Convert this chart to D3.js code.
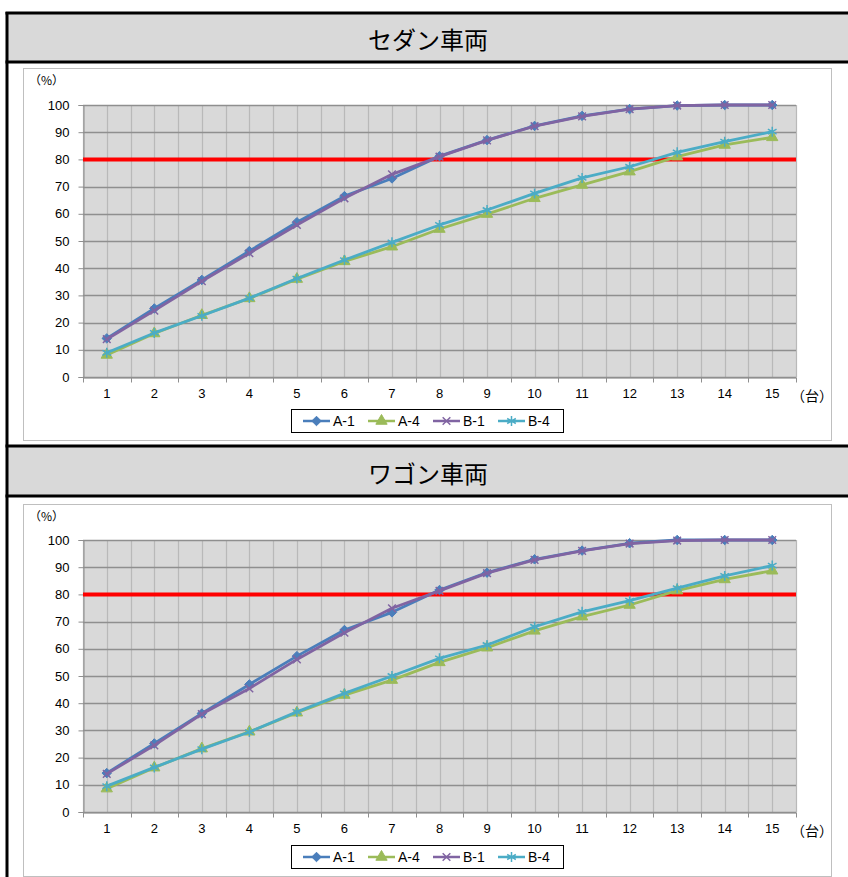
<!DOCTYPE html>
<html>
<head>
<meta charset="utf-8">
<script src="https://cdn.jsdelivr.net/npm/d3@7"></script>
<style>
  html, body { margin: 0; padding: 0; background: #fff; }
  svg { display: block; }
</style>
</head>
<body>
<svg id="chart" width="848" height="877"></svg>
<script>
// ---------- data ----------
const categories = [1, 2, 3, 4, 5, 6, 7, 8, 9, 10, 11, 12, 13, 14, 15];
const yTicks = [0, 10, 20, 30, 40, 50, 60, 70, 80, 90, 100];
const seriesNames = ["A-1", "A-4", "B-1", "B-4"];
const thresholdValue = 80;
const panelTitles = ["セダン車両", "ワゴン車両"];

const sedanA1 = [14.2, 25.2, 35.7, 46.3, 56.9, 66.5, 73.0, 81.2, 87.1, 92.3, 96.0, 98.5, 99.8, 100, 100];
const sedanA4 = [8.1, 16.0, 22.7, 28.9, 36.0, 42.5, 47.9, 54.4, 59.9, 65.7, 70.6, 75.5, 81.0, 85.3, 88.1];
const sedanB1 = [13.9, 24.4, 35.2, 45.5, 55.9, 65.7, 74.5, 81.0, 87.0, 92.2, 95.8, 98.5, 99.8, 100, 100];
const sedanB4 = [8.9, 16.2, 22.5, 29.0, 36.2, 43.0, 49.5, 55.9, 61.4, 67.5, 73.2, 77.3, 82.6, 86.5, 90.2];

const wagonA1 = [14.3, 25.2, 36.2, 46.9, 57.3, 66.9, 73.4, 81.6, 88.0, 92.9, 96.1, 98.8, 100, 100, 100];
const wagonA4 = [8.6, 16.3, 23.3, 29.5, 36.5, 43.0, 48.5, 55.0, 60.4, 66.6, 71.8, 76.1, 81.4, 85.5, 88.7];
const wagonB1 = [14.0, 24.5, 36.0, 45.4, 56.1, 65.9, 74.9, 81.3, 87.8, 92.7, 96.0, 98.7, 99.8, 100, 100];
const wagonB4 = [9.5, 16.4, 23.1, 29.4, 36.8, 43.6, 50.0, 56.5, 61.4, 68.1, 73.6, 77.7, 82.3, 86.8, 90.6];

// ---------- styles ----------
const colors = { "A-1": "#4a7ebb", "A-4": "#9bbb59", "B-1": "#8064a2", "B-4": "#4bacc6" };
const squareDiamond = {
  draw(ctx, size) {
    const r = Math.sqrt(size / 2);
    ctx.moveTo(0, -r); ctx.lineTo(r, 0); ctx.lineTo(0, r); ctx.lineTo(-r, 0); ctx.closePath();
  }
};
const symbols = { "A-1": squareDiamond, "A-4": d3.symbolTriangle, "B-1": d3.symbolTimes, "B-4": d3.symbolAsterisk };
const symSize = { "A-1": 45, "A-4": 55, "B-1": 40, "B-4": 70 };
const filled = { "A-1": true, "A-4": true, "B-1": false, "B-4": false };
const FONT = "'Liberation Sans', Arial, sans-serif";
const JFONT = "'Noto Sans CJK JP', sans-serif";

const svg = d3.select("#chart");

// ---------- table frame ----------
const tableLeft = 7, tableRight = 860;
const rows = [
  { headTop: 13, headBottom: 62, chartBottom: 446 },
  { headTop: 446, headBottom: 496, chartBottom: 880 }
];
rows.forEach((r, i) => {
  svg.append("rect").attr("x", tableLeft).attr("y", r.headTop)
    .attr("width", tableRight - tableLeft).attr("height", r.headBottom - r.headTop)
    .attr("fill", "#d9d9d9");
  svg.append("text").attr("x", 428).attr("y", (r.headTop + r.headBottom) / 2 + 1)
    .attr("text-anchor", "middle").attr("dominant-baseline", "central")
    .attr("font-family", JFONT).attr("font-size", 24).attr("fill", "#000")
    .text(panelTitles[i]);
});
// borders
[13, 62, 446, 496].forEach(y => {
  svg.append("line").attr("x1", tableLeft - 1.5).attr("x2", tableRight).attr("y1", y).attr("y2", y)
    .attr("stroke", "#000").attr("stroke-width", 3);
});
svg.append("line").attr("x1", tableLeft).attr("x2", tableLeft).attr("y1", 12).attr("y2", 880)
  .attr("stroke", "#000").attr("stroke-width", 3);

// ---------- charts ----------
function drawChart(cfg) {
  const g = svg.append("g");
  // chart frame
  g.append("rect").attr("x", 23.5).attr("y", cfg.frameTop + 0.5)
    .attr("width", 808).attr("height", cfg.frameBottom - cfg.frameTop)
    .attr("fill", "#fff").attr("stroke", "#bfbfbf").attr("stroke-width", 1);

  const x = d3.scaleBand().domain(categories).range([83, 796]).paddingInner(0).paddingOuter(0);
  const bw = x.bandwidth();
  const cx = c => x(c) + bw / 2;
  const y = d3.scaleLinear().domain([0, 100]).range([cfg.plotBottom, cfg.plotTop]);

  // plot background
  g.append("rect").attr("x", 83).attr("y", cfg.plotTop)
    .attr("width", 796 - 83).attr("height", cfg.plotBottom - cfg.plotTop)
    .attr("fill", "#d9d9d9");

  // vertical grid lines (category boundaries and centers)
  const vpos = [];
  categories.forEach(c => { vpos.push(x(c)); vpos.push(cx(c)); });
  vpos.push(796);
  g.append("g").selectAll("line").data(vpos).join("line")
    .attr("x1", d => Math.round(d) + 0.5).attr("x2", d => Math.round(d) + 0.5)
    .attr("y1", cfg.plotTop).attr("y2", cfg.plotBottom)
    .attr("stroke", "#b9b9b9").attr("stroke-width", 1.2);

  // horizontal grid lines
  g.append("g").selectAll("line").data(yTicks).join("line")
    .attr("x1", 83).attr("x2", 796)
    .attr("y1", d => Math.round(y(d)) + 0.5).attr("y2", d => Math.round(y(d)) + 0.5)
    .attr("stroke", "#8f8f8f").attr("stroke-width", 1.3);

  // y axis
  const yAxis = d3.axisLeft(y).tickValues(yTicks).tickSize(5).tickPadding(9);
  const ya = g.append("g").attr("transform", "translate(83.5,0)").call(yAxis);
  ya.select(".domain").attr("stroke", "#8f8f8f");
  ya.selectAll(".tick line").attr("stroke", "#8f8f8f");
  ya.selectAll("text").attr("font-family", FONT).attr("font-size", 13).attr("fill", "#000");

  // x axis
  const xAxis = d3.axisBottom(x).tickSize(0).tickPadding(11);
  const xa = g.append("g").attr("transform", `translate(0,${cfg.plotBottom + 0.5})`).call(xAxis);
  xa.select(".domain").attr("stroke", "#8f8f8f");
  xa.selectAll("text").attr("font-family", FONT).attr("font-size", 13).attr("fill", "#000");
  // tick marks at category boundaries
  const bpos = categories.map(c => x(c)).concat([796]);
  xa.append("g").selectAll("line").data(bpos).join("line")
    .attr("x1", d => Math.round(d) + 0.5).attr("x2", d => Math.round(d) + 0.5)
    .attr("y1", 0).attr("y2", 5).attr("stroke", "#8f8f8f");

  // unit labels
  g.append("text").attr("x", 29).attr("y", cfg.frameTop + 17)
    .attr("font-family", JFONT).attr("font-size", 12).attr("fill", "#000").text("（%）");
  g.append("text").attr("x", 791).attr("y", cfg.plotBottom + 24)
    .attr("font-family", JFONT).attr("font-size", 14).attr("fill", "#000").text("（台）");

  // threshold line
  g.append("line").attr("x1", 83).attr("x2", 796)
    .attr("y1", y(thresholdValue)).attr("y2", y(thresholdValue))
    .attr("stroke", "#ff0000").attr("stroke-width", 4);

  // series
  const line = d3.line().x((d, i) => cx(categories[i])).y(d => y(d));
  cfg.series.forEach(s => {
    const col = colors[s.name];
    g.append("path").datum(s.values).attr("d", line)
      .attr("fill", "none").attr("stroke", col).attr("stroke-width", 2.8)
      .attr("stroke-linejoin", "round");
    const sym = d3.symbol().type(symbols[s.name]).size(symSize[s.name]);
    g.append("g").selectAll("path").data(s.values).join("path")
      .attr("transform", (d, i) => `translate(${cx(categories[i])},${y(d)})`)
      .attr("d", sym)
      .attr("fill", filled[s.name] ? col : "none")
      .attr("stroke", col).attr("stroke-width", filled[s.name] ? 1 : 1.5);
  });

  // legend
  const lg = g.append("g");
  lg.append("rect").attr("x", 291.5).attr("y", cfg.legendTop + 0.5)
    .attr("width", 272).attr("height", 23)
    .attr("fill", "#fff").attr("stroke", "#000").attr("stroke-width", 1);
  const ly = cfg.legendTop + 12;
  seriesNames.forEach((n, i) => {
    const x0 = 303 + i * 65;
    const col = colors[n];
    lg.append("line").attr("x1", x0).attr("x2", x0 + 27).attr("y1", ly).attr("y2", ly)
      .attr("stroke", col).attr("stroke-width", 2.5);
    lg.append("path").attr("transform", `translate(${x0 + 13.5},${ly})`)
      .attr("d", d3.symbol().type(symbols[n]).size(symSize[n])())
      .attr("fill", filled[n] ? col : "none").attr("stroke", col)
      .attr("stroke-width", filled[n] ? 1 : 1.5);
    lg.append("text").attr("x", x0 + 30).attr("y", ly).attr("dominant-baseline", "central")
      .attr("font-family", FONT).attr("font-size", 14).attr("fill", "#000").text(n);
  });
}

drawChart({
  frameTop: 68, frameBottom: 440, plotTop: 105, plotBottom: 377, legendTop: 409,
  series: [
    { name: "A-1", values: sedanA1 },
    { name: "A-4", values: sedanA4 },
    { name: "B-1", values: sedanB1 },
    { name: "B-4", values: sedanB4 }
  ]
});
drawChart({
  frameTop: 504, frameBottom: 876, plotTop: 540, plotBottom: 812, legendTop: 845,
  series: [
    { name: "A-1", values: wagonA1 },
    { name: "A-4", values: wagonA4 },
    { name: "B-1", values: wagonB1 },
    { name: "B-4", values: wagonB4 }
  ]
});
</script>
</body>
</html>
